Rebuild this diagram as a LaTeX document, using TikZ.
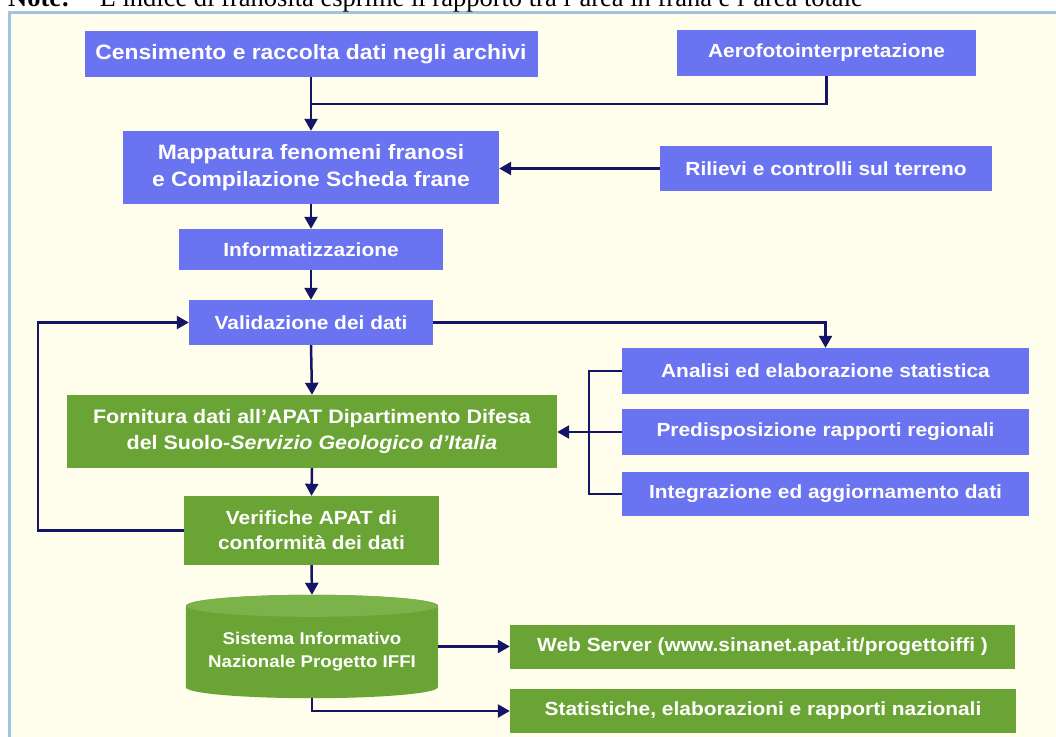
\documentclass[tikz,border=0pt]{standalone}
\usepackage{fontspec}
\setmainfont{Liberation Sans}
\newfontfamily\boxfont[FakeStretch=1.1]{Liberation Sans}
\newfontfamily\notefont{Liberation Serif}
\usetikzlibrary{arrows.meta}
\definecolor{bgcream}{RGB}{255,253,235}
\definecolor{frameblue}{RGB}{160,196,224}
\definecolor{boxblue}{RGB}{106,116,240}
\definecolor{boxgreen}{RGB}{106,164,53}
\definecolor{cyltop}{RGB}{124,178,74}
\definecolor{navyline}{RGB}{20,20,104}
\pgfdeclarelayer{back}
\pgfdeclarelayer{bg}
\pgfsetlayers{back,bg,main}
\begin{document}
\begin{tikzpicture}[x=1pt,y=-1pt,
  box/.style={inner sep=0pt, text=white, font=\boxfont\bfseries\fontsize{19}{25}\selectfont, align=center},
  bigtext/.style={font=\boxfont\bfseries\fontsize{20.8}{27}\selectfont},
  bluebox/.style={box, fill=boxblue},
  greenbox/.style={box, fill=boxgreen},
  conn/.style={draw=navyline, line width=2.5pt},
  arr/.style={conn, -{Triangle[width=13pt,length=12pt]}}]
\useasboundingbox (0,0) rectangle (1056,736);
\begin{pgfonlayer}{back}
\fill[white] (0,0) rectangle (1056,736);
\draw[frameblue, line width=3pt, fill=bgcream] (9.5,12.5) rectangle (1070,750);
\end{pgfonlayer}
\node[anchor=base west, inner sep=0pt, font=\notefont\fontsize{26.5}{30}\selectfont] (note) at (8,6)
  {\textbf{Note:}\hspace*{30pt}L’indice di franosità esprime il rapporto tra l’area in frana e l’area totale};

\node[bluebox, bigtext, minimum width=453pt, minimum height=46pt] (cens) at (311,54) {Censimento e raccolta dati negli archivi};
\node[bluebox, minimum width=299pt, minimum height=46pt] (aero) at (826.5,53) {Aerofotointerpretazione};
\node[bluebox, bigtext, minimum width=376pt, minimum height=73pt] (mapp) at (311,167.5) {Mappatura fenomeni franosi\\e Compilazione Scheda frane};
\node[bluebox, minimum width=332pt, minimum height=45pt] (ril) at (826,168.5) {Rilievi e controlli sul terreno};
\node[bluebox, minimum width=264pt, minimum height=41pt] (info) at (311,249.5) {Informatizzazione};
\node[bluebox, minimum width=244pt, minimum height=45pt] (val) at (311,322.5) {Validazione dei dati};
\node[greenbox, minimum width=490pt, minimum height=73pt, font=\boxfont\bfseries\fontsize{19.5}{26}\selectfont] (forn) at (312,431.5) {Fornitura dati all’APAT Dipartimento Difesa\\del Suolo-\textit{Servizio Geologico d’Italia}};
\node[bluebox, minimum width=407pt, minimum height=46pt] (anal) at (825.5,371) {Analisi ed elaborazione statistica};
\node[bluebox, minimum width=407pt, minimum height=46pt] (pred) at (825.5,432) {Predisposizione rapporti regionali};
\node[bluebox, minimum width=407pt, minimum height=44pt] (integ) at (825.5,494) {Integrazione ed aggiornamento dati};
\node[greenbox, minimum width=255pt, minimum height=69pt] (verif) at (311.5,530.5) {Verifiche APAT di\\conformità dei dati};
\node[box, minimum width=252pt, minimum height=103pt, font=\boxfont\bfseries\fontsize{17}{23}\selectfont] (db) at (312,646.5) {\rule{0pt}{22pt}Sistema Informativo\\Nazionale Progetto IFFI};
\node[greenbox, minimum width=505pt, minimum height=44pt] (web) at (762.5,647) {Web Server (www.sinanet.apat.it/progettoiffi )};
\node[greenbox, minimum width=506pt, minimum height=44pt] (stat) at (763,711) {Statistiche, elaborazioni e rapporti nazionali};

\begin{pgfonlayer}{bg}
\fill[boxgreen] ([yshift=-11pt]db.north west) -- ([yshift=11pt]db.south west)
  arc[start angle=180, end angle=360, x radius=126pt, y radius=11pt]
  -- ([yshift=-11pt]db.north east)
  arc[start angle=0, end angle=180, x radius=126pt, y radius=11pt] -- cycle;
\fill[cyltop] ([yshift=-11pt]db.north) ellipse[x radius=126pt, y radius=11pt];
\end{pgfonlayer}

\coordinate (j1) at (311,104);
\draw[conn] (aero.south) |- (j1);
\draw[arr] (cens.south) -- (mapp.north);
\draw[arr] (ril.west) -- (ril.west -| mapp.east);
\draw[arr] (mapp.south) -- (info.north);
\draw[arr] (info.south) -- (val.north);
\draw[arr] (val.east) -| (anal.north);
\draw[arr] (verif.west) -- ++(-146,0) |- (val.west);
\draw[arr] (val.south) -- (forn.north);
\draw[conn] (anal.west) -- ++(-33,0) |- (integ.west);
\draw[arr] (pred.west) -- (pred.west -| forn.east);
\draw[arr] (forn.south) -- (verif.north);
\draw[arr] (verif.south) -- (db.north);
\draw[arr] (db.east) -- (db.east -| web.west);
\draw[arr] (db.south) |- (stat.west);
\end{tikzpicture}
\end{document}
